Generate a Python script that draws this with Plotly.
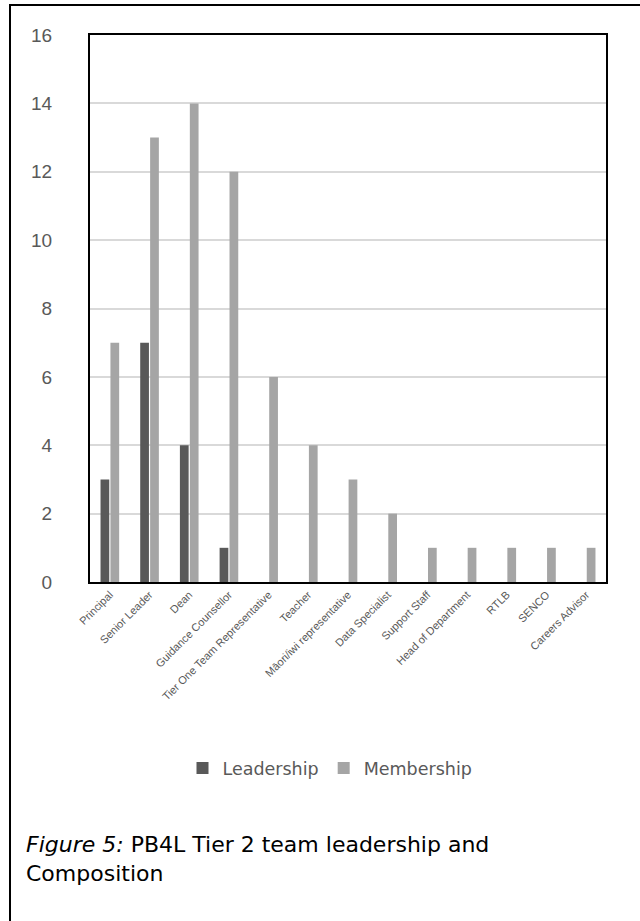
import plotly.graph_objects as go

# Team roles and counts
roles = [
    "Principal", "Senior Leader", "Dean", "Guidance Counsellor",
    "Tier One Team Representative", "Teacher", "Māori/iwi representative",
    "Data Specialist", "Support Staff", "Head of Department", "RTLB",
    "SENCO", "Careers Advisor",
]
leadership = [3, 7, 4, 1, 0, 0, 0, 0, 0, 0, 0, 0, 0]
membership = [7, 13, 14, 12, 6, 4, 3, 2, 1, 1, 1, 1, 1]
y_ticks = [0, 2, 4, 6, 8, 10, 12, 14, 16]

W, H = 640, 921
L, R, T, B = 90, 34, 35, 339  # plot area margins in px
PW, PH = W - L - R, H - T - B


def px_x(px):
    return (px - L) / PW


def px_y(py):
    return (H - B - py) / PH


FONT = "Liberation Sans, Arial, sans-serif"
WIDE_FONT = "DejaVu Sans, Verdana, sans-serif"
GREY_TXT = "#595959"

fig = go.Figure()
fig.add_trace(go.Bar(x=roles, y=leadership, name="Leadership",
                     marker=dict(color="#595959", line=dict(width=0))))
fig.add_trace(go.Bar(x=roles, y=membership, name="Membership",
                     marker=dict(color="#A5A5A5", line=dict(width=0))))

fig.update_layout(
    width=W, height=H,
    margin=dict(l=L, r=R, t=T, b=B, autoexpand=False),
    paper_bgcolor="white", plot_bgcolor="white",
    barmode="group", bargap=0.5, bargroupgap=0.12,
    font=dict(family=FONT, color=GREY_TXT),
    showlegend=True,
    legend=dict(orientation="h", x=px_x(330), xanchor="center",
                y=px_y(768), yanchor="middle",
                font=dict(size=17.5, color=GREY_TXT, family=WIDE_FONT),
                itemwidth=30, traceorder="normal"),
)

fig.update_xaxes(
    tickangle=-45, tickfont=dict(size=11, color=GREY_TXT),
    showline=True, linecolor="black", linewidth=2, mirror=True,
    ticks="", showgrid=False,
)
fig.update_yaxes(
    range=[0, 16], tickvals=y_ticks, ticktext=[str(v) for v in y_ticks],
    tickfont=dict(size=19, color=GREY_TXT),
    showline=True, linecolor="black", linewidth=2, mirror=True,
    showgrid=True, gridcolor="#D9D9D9", gridwidth=1.5,
    ticks="", ticklabelstandoff=32, zeroline=False,
)

# Outer frame around chart and caption
fig.add_shape(type="rect", xref="paper", yref="paper",
              x0=px_x(10), x1=px_x(660), y0=px_y(960), y1=px_y(5),
              line=dict(color="black", width=2), fillcolor="rgba(0,0,0,0)",
              layer="above")

fig.add_annotation(
    xref="paper", yref="paper", x=px_x(24), y=px_y(830),
    xanchor="left", yanchor="top", align="left", showarrow=False,
    text="<i>Figure 5:</i> PB4L Tier 2 team leadership and<br>Composition",
    font=dict(size=22, color="black", family=WIDE_FONT),
)

fig.write_html("out.html")
